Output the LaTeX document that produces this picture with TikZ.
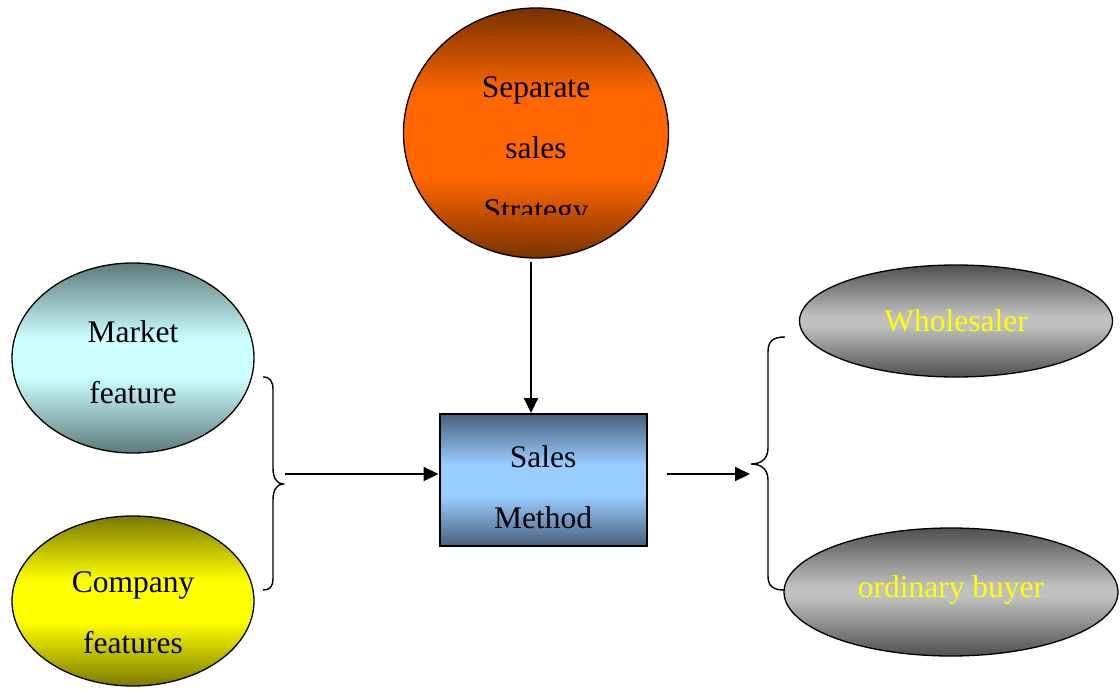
\documentclass[tikz,border=0pt]{standalone}
\usepackage{fontspec}
\setmainfont{Liberation Serif}
\usetikzlibrary{shapes.geometric,arrows.meta}

% banded vertical shadings: dark at top and bottom, light band across the middle
\definecolor{orDk}{RGB}{120,50,0}
\definecolor{orLt}{RGB}{255,102,0}
\definecolor{tlDk}{RGB}{92,122,122}
\definecolor{tlLt}{RGB}{204,255,255}
\definecolor{ylDk}{RGB}{122,122,0}
\definecolor{ylLt}{RGB}{255,255,0}
\definecolor{blDk}{RGB}{72,96,124}
\definecolor{blLt}{RGB}{153,204,255}
\definecolor{gyDk}{RGB}{80,80,80}
\definecolor{gyLt}{RGB}{192,192,192}
\pgfdeclareverticalshading{orangeband}{100bp}{color(0bp)=(orDk); color(25bp)=(orDk); color(41bp)=(orLt); color(58bp)=(orLt); color(75bp)=(orDk); color(100bp)=(orDk)}
\pgfdeclareverticalshading{tealband}{100bp}{color(0bp)=(tlDk); color(25bp)=(tlDk); color(45bp)=(tlLt); color(55bp)=(tlLt); color(75bp)=(tlDk); color(100bp)=(tlDk)}
\pgfdeclareverticalshading{yellowband}{100bp}{color(0bp)=(ylDk); color(25bp)=(ylDk); color(44bp)=(ylLt); color(56bp)=(ylLt); color(75bp)=(ylDk); color(100bp)=(ylDk)}
\pgfdeclareverticalshading{blueband}{100bp}{color(0bp)=(blDk); color(25bp)=(blDk); color(44bp)=(blLt); color(56bp)=(blLt); color(75bp)=(blDk); color(100bp)=(blDk)}
\pgfdeclareverticalshading{grayband}{100bp}{color(0bp)=(gyDk); color(25bp)=(gyDk); color(48bp)=(gyLt); color(52bp)=(gyLt); color(75bp)=(gyDk); color(100bp)=(gyDk)}

\tikzset{
  blob/.style={ellipse, draw=black, line width=1.3pt, inner sep=0pt},
  label/.style={anchor=base, inner sep=0pt, font=\fontsize{31.5}{37}\selectfont},
  flow/.style={line width=2pt, -{Triangle[length=15pt,width=14pt]}},
  brace/.style={line width=1.4pt},
}

\begin{document}
\begin{tikzpicture}[x=1pt,y=-1pt]
\useasboundingbox (0,0) rectangle (1120,690);

% shapes
\node[blob, shading=orangeband, minimum width=265pt, minimum height=250pt] (strat) at (536,133) {};
\node[blob, shading=tealband, minimum width=242pt, minimum height=190pt] (market) at (133,358) {};
\node[blob, shading=yellowband, minimum width=242pt, minimum height=170pt] (company) at (133,601) {};
\node[draw=black, line width=2pt, shading=blueband, minimum width=207pt, minimum height=132pt, inner sep=0pt] (method) at (543,480) {};
\node[blob, shading=grayband, minimum width=313pt, minimum height=112pt] (whole) at (956,321) {};
\node[blob, shading=grayband, minimum width=334pt, minimum height=128pt] (buyer) at (951,592) {};

% texts
\node[label] (t1) at (536,98) {Separate};
\node[label] (t2) at (536,159) {sales};
\begin{scope}
  \clip (400,180) rectangle (680,215);
  \node[label] (t3) at (536,220) {Strategy};
\end{scope}
\node[label] (m1) at (133,342) {Market};
\node[label] (m2) at (133,403) {feature};
\node[label] (c1) at (133,592) {Company};
\node[label] (c2) at (133,653) {features};
\node[label] (s1) at (543,467) {Sales};
\node[label] (s2) at (543,528) {Method};
\node[label, text=ylLt] (w1) at (956,331) {Wholesaler};
\node[label, text=ylLt] (b1) at (951,597) {ordinary buyer};

% braces
\coordinate (ltip) at (283,484);
\draw[brace] (263,377) .. controls (270,377) and (273,381) .. (273,390) -- (273,468)
  .. controls (273,478) and (277,484) .. (ltip)
  .. controls (277,484) and (273,490) .. (273,500) -- (273,578)
  .. controls (273,587) and (270,590) .. (263,590);
\coordinate (rtip) at (751,464);
\draw[brace] (785,337) .. controls (773,337) and (768,341) .. (768,352) -- (768,448)
  .. controls (768,458) and (762,464) .. (rtip)
  .. controls (762,464) and (768,470) .. (768,480) -- (768,576)
  .. controls (768,586) and (773,590) .. (784,590);

% connectors
\coordinate (topstart) at (531,262);
\draw[flow] (topstart) -- (topstart |- method.north);
\coordinate (lstart) at (285,474);
\draw[flow] (lstart) -- (lstart -| method.west);
\coordinate (rstart) at (667,474);
\coordinate (rend) at (750,474);
\draw[flow] (rstart) -- (rend);
\end{tikzpicture}
\end{document}
